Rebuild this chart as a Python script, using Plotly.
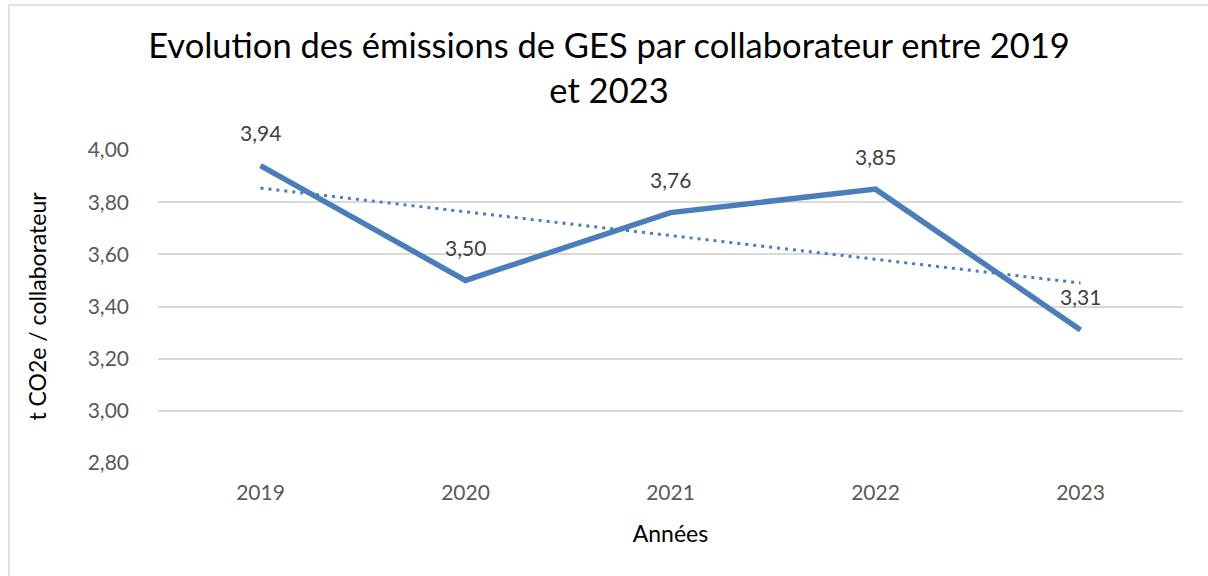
import numpy as np
import plotly.graph_objects as go

years = ["2019", "2020", "2021", "2022", "2023"]
emissions = [3.94, 3.50, 3.76, 3.85, 3.31]
y_ticks = [2.80, 3.00, 3.20, 3.40, 3.60, 3.80, 4.00]

title_text = "Evolution des émissions de GES par collaborateur entre 2019<br>et 2023"
x_title = "Années"
y_title = "t CO2e / collaborateur"

# Linear trendline (as Excel computes it)
idx = np.arange(len(years))
slope, intercept = np.polyfit(idx, emissions, 1)
trend = slope * idx + intercept

BLUE = "#4a7ebb"
FONT = "Lato"

fig = go.Figure()
fig.add_trace(go.Scatter(
    x=years, y=trend, mode="lines",
    line=dict(color=BLUE, width=3, dash="3px,5px"),
    hoverinfo="skip", showlegend=False,
))
fig.add_trace(go.Scatter(
    x=years, y=emissions, mode="lines",
    line=dict(color=BLUE, width=5.5),
    showlegend=False,
))

for i, v in enumerate(emissions):
    fig.add_annotation(
        x=i, y=v, xref="x", yref="y", text=f"{v:.2f}".replace(".", ","),
        showarrow=False, yshift=33,
        font=dict(family=FONT, size=21, color="#404040"),
    )

# outer chart border
fig.add_shape(
    type="rect", xref="paper", yref="paper",
    x0=(9 - 158) / 1025, x1=(1230 - 158) / 1025,
    y0=(463 - 600) / 313, y1=(463 - 5) / 313,
    line=dict(color="#d9d9d9", width=1.5), fillcolor="rgba(0,0,0,0)",
    layer="below",
)

fig.update_layout(
    width=1208, height=576,
    margin=dict(l=158, r=25, t=150, b=113),
    paper_bgcolor="white", plot_bgcolor="white",
    title=dict(
        text=title_text, x=609 / 1208, xanchor="center", xref="container",
        y=1 - 58 / 576, yanchor="top",
        font=dict(family=FONT, size=34.5, color="#000000"),
    ),
    font=dict(family=FONT),
    xaxis=dict(
        type="category", range=[-0.5, 4.5],
        showgrid=False, showline=False, zeroline=False,
        ticks="", tickfont=dict(family=FONT, size=21, color="#595959"),
        ticklabelstandoff=15,
        title=dict(text=x_title, font=dict(family=FONT, size=23, color="#000000"), standoff=22),
    ),
    yaxis=dict(
        range=[2.8, 4.0], tickvals=y_ticks,
        ticktext=[f"{t:.2f}".replace(".", ",") for t in y_ticks],
        showgrid=True, gridcolor="#d9d9d9", gridwidth=1.5,
        zeroline=False, showline=False, ticks="",
        tickfont=dict(family=FONT, size=21, color="#595959"),
        ticklabelstandoff=28,
        title=dict(text=y_title, font=dict(family=FONT, size=23, color="#000000"), standoff=34),
    ),
)
fig.write_html(
    "out.html",
    config={"displayModeBar": False},
    post_script="document.body.style.margin='0';document.body.style.overflow='hidden';",
)
